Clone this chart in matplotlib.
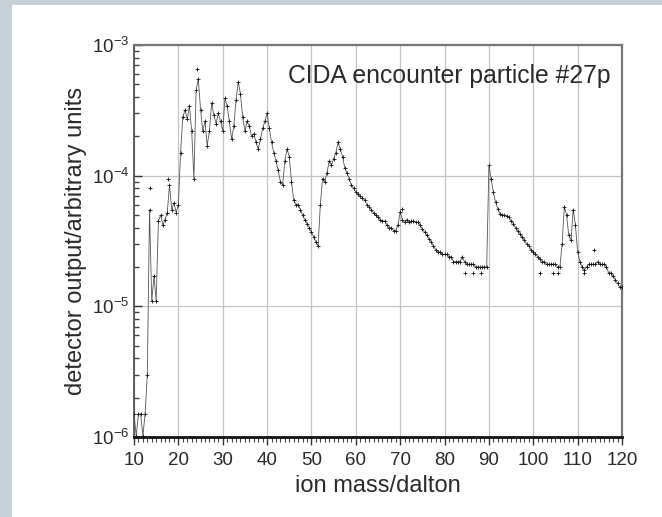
import numpy as np
import matplotlib
matplotlib.use("Agg")
import matplotlib.pyplot as plt
from matplotlib.patches import Rectangle
from matplotlib.ticker import LogLocator, MultipleLocator, FixedLocator

plt.rcParams["font.family"] = ["Liberation Sans", "DejaVu Sans"]
plt.rcParams["mathtext.fontset"] = "custom"
plt.rcParams["mathtext.rm"] = "Liberation Sans"
plt.rcParams["mathtext.it"] = "Liberation Sans"

# mass grid, 0.5 dalton sampling
mass = np.arange(10.0, 120.25, 0.5)

# detector output, rows of 5 dalton
signal = [
    1.5e-6, 1.02e-6, 1.5e-6, 1.5e-6, 1.02e-6, 1.5e-6, 3e-6, 5.5e-5, 1.1e-5, 1.7e-5,        # 10
    1.1e-5, 4.5e-5, 5e-5, 4.2e-5, 4.6e-5, 5.2e-5, 8.5e-5, 5.5e-5, 6.2e-5, 5.2e-5,          # 15
    6e-5, 1.5e-4, 2.8e-4, 3.2e-4, 2.7e-4, 3.4e-4, 2.2e-4, 9.5e-5, 4.5e-4, 5.5e-4,          # 20
    3.2e-4, 2.2e-4, 2.6e-4, 1.7e-4, 2.2e-4, 3.6e-4, 2.9e-4, 2.5e-4, 3.0e-4, 2.6e-4,        # 25
    2.2e-4, 3.9e-4, 3.4e-4, 2.6e-4, 1.9e-4, 2.4e-4, 3.8e-4, 5.2e-4, 4.2e-4, 2.8e-4,        # 30
    2.2e-4, 2.6e-4, 2.4e-4, 2.0e-4, 2.1e-4, 1.8e-4, 1.6e-4, 1.9e-4, 2.3e-4, 2.6e-4,        # 35
    3.0e-4, 2.3e-4, 1.8e-4, 1.5e-4, 1.3e-4, 1.1e-4, 9e-5, 8.5e-5, 1.3e-4, 1.6e-4,          # 40
    1.4e-4, 9e-5, 6.5e-5, 6e-5, 6e-5, 5.5e-5, 5e-5, 4.6e-5, 4.3e-5, 4e-5,                  # 45
    3.7e-5, 3.4e-5, 3.1e-5, 2.9e-5, 6e-5, 9.5e-5, 9e-5, 1.05e-4, 1.3e-4, 1.2e-4,           # 50
    1.35e-4, 1.5e-4, 1.8e-4, 1.6e-4, 1.4e-4, 1.15e-4, 1.05e-4, 9.5e-5, 8.5e-5, 8e-5,       # 55
    7.5e-5, 7.2e-5, 7e-5, 6.8e-5, 6.5e-5, 6e-5, 5.8e-5, 5.5e-5, 5.2e-5, 5e-5,              # 60
    4.8e-5, 4.6e-5, 4.5e-5, 4.5e-5, 4.2e-5, 4e-5, 4e-5, 3.8e-5, 3.8e-5, 4.2e-5,            # 65
    5.3e-5, 4.6e-5, 4.4e-5, 4.6e-5, 4.4e-5, 4.5e-5, 4.5e-5, 4.4e-5, 4.4e-5, 4.2e-5,        # 70
    3.9e-5, 3.7e-5, 3.5e-5, 3.3e-5, 3.1e-5, 2.9e-5, 2.7e-5, 2.6e-5, 2.6e-5, 2.5e-5,        # 75
    2.5e-5, 2.5e-5, 2.4e-5, 2.4e-5, 2.2e-5, 2.2e-5, 2.2e-5, 2.2e-5, 2.4e-5, 2.2e-5,        # 80
    2.1e-5, 2.1e-5, 2.1e-5, 2.1e-5, 2.0e-5, 2.0e-5, 2.0e-5, 2.0e-5, 2.0e-5, 2.0e-5,        # 85
    1.2e-4, 9.5e-5, 7.5e-5, 6.3e-5, 5.6e-5, 5.1e-5, 5e-5, 5e-5, 4.9e-5, 4.8e-5,            # 90
    4.5e-5, 4.3e-5, 4e-5, 3.8e-5, 3.6e-5, 3.4e-5, 3.2e-5, 3e-5, 2.9e-5, 2.7e-5,            # 95
    2.6e-5, 2.5e-5, 2.4e-5, 2.3e-5, 2.2e-5, 2.2e-5, 2.1e-5, 2.1e-5, 2.1e-5, 2.1e-5,        # 100
    2.1e-5, 2.0e-5, 2.0e-5, 3e-5, 5.8e-5, 5e-5, 3.5e-5, 3.2e-5, 5.5e-5, 4.2e-5,            # 105
    2.6e-5, 2.2e-5, 2.0e-5, 1.9e-5, 2.0e-5, 2.1e-5, 2.1e-5, 2.1e-5, 2.1e-5, 2.2e-5,        # 110
    2.1e-5, 2.1e-5, 2.1e-5, 2.0e-5, 1.8e-5, 1.8e-5, 1.7e-5, 1.6e-5, 1.5e-5, 1.4e-5,        # 115
    1.4e-5,                                                                                 # 120
]

# isolated readings
stray_mass = [13.6, 17.7, 24.3, 70.4, 84.5, 86.5, 88.2, 101.5, 104.5, 105.5, 111.5, 113.8]
stray_val = [8e-5, 9.5e-5, 6.5e-4, 5.6e-5, 1.8e-5, 1.8e-5, 1.8e-5, 1.8e-5, 1.8e-5, 1.8e-5, 1.8e-5, 2.7e-5]

xticks = [10, 20, 30, 40, 50, 60, 70, 80, 90, 100, 110, 120]
yticks = [1e-6, 1e-5, 1e-4, 1e-3]
ytick_labels = [r"$10^{-6}$", r"$10^{-5}$", r"$10^{-4}$", r"$10^{-3}$"]

txt = "#2a2a2a"
fig = plt.figure(figsize=(6.62, 5.17), dpi=100, facecolor="#c6d1d8")
fig.patches.append(Rectangle((12 / 662, 0), 1, 1 - 5 / 517, transform=fig.transFigure,
                             facecolor="white", edgecolor="none", zorder=-10))
ax = fig.add_axes([134 / 662, 1 - 437 / 517, 488 / 662, 392 / 517])
ax.set_facecolor("white")

ax.plot(mass, signal, color="#555555", lw=0.6, zorder=3)
ax.plot(mass, signal, ls="none", marker="+", ms=3, mew=0.6, color="#111111", zorder=4)
ax.plot(stray_mass, stray_val, ls="none", marker="+", ms=3, mew=0.6, color="#111111", zorder=4)

ax.set_yscale("log")
ax.set_xlim(10, 120)
ax.set_ylim(1e-6, 1e-3)
ax.xaxis.set_major_locator(FixedLocator(xticks))
ax.xaxis.set_minor_locator(MultipleLocator(1))
ax.set_yticks(yticks)
ax.set_yticklabels(ytick_labels)
ax.yaxis.set_minor_locator(LogLocator(base=10, subs=np.arange(2, 10)))
ax.yaxis.set_minor_formatter(plt.NullFormatter())

ax.grid(which="major", color="#c4c4c4", lw=0.9)
ax.set_axisbelow(True)

ax.tick_params(axis="x", which="major", direction="out", length=6, width=1, color="#333",
               labelsize=13.5, labelcolor=txt, pad=5)
ax.tick_params(axis="x", which="minor", direction="out", length=3.5, width=0.8, color="#444")
ax.tick_params(axis="y", which="major", direction="in", length=6, width=1, color="#333",
               labelsize=13.5, labelcolor=txt, pad=3)
ax.tick_params(axis="y", which="minor", direction="in", length=3.5, width=1, color="#444")

for side in ("top", "right"):
    ax.spines[side].set_color("#777777")
    ax.spines[side].set_linewidth(1.6)
ax.spines["left"].set_color("#555555")
ax.spines["left"].set_linewidth(1.3)
ax.spines["bottom"].set_color("#111111")
ax.spines["bottom"].set_linewidth(2.0)

ax.set_xlabel("ion mass/dalton", fontsize=17, color=txt, labelpad=4)
ax.set_ylabel("detector output/arbitrary units", fontsize=17, color=txt, labelpad=4)
ax.text(0.977, 0.922, "CIDA encounter particle #27p", transform=ax.transAxes,
        ha="right", va="center", fontsize=17.8, color=txt)

fig.savefig("out.png", dpi=100, facecolor=fig.get_facecolor())
